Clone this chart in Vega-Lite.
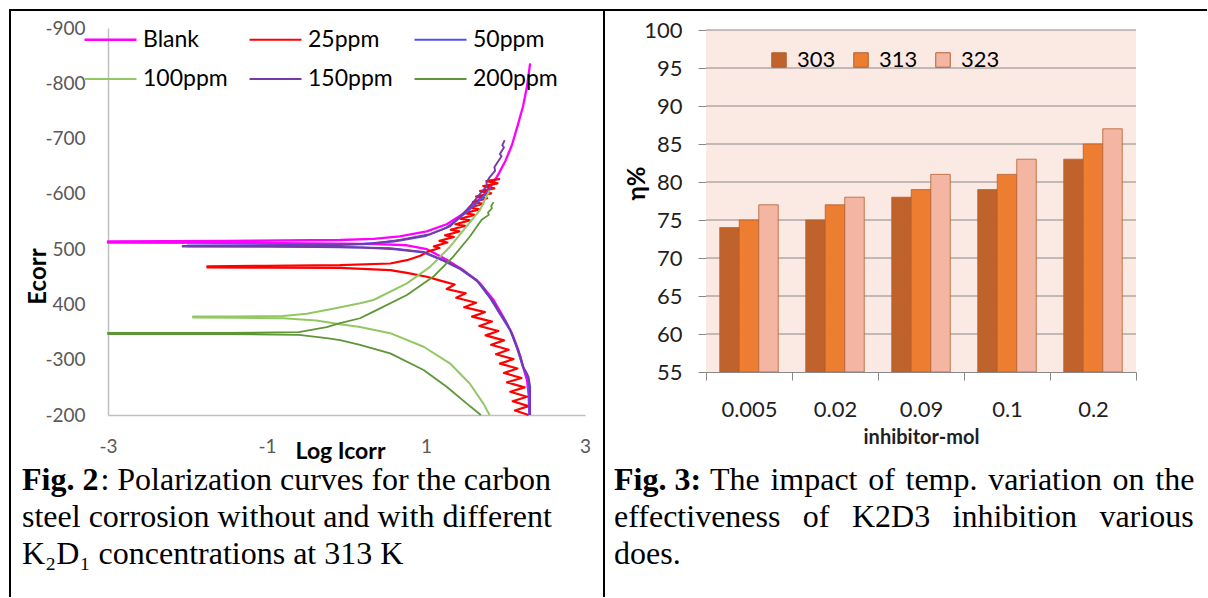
{
  "$schema": "https://vega.github.io/schema/vega-lite/v6.json",
  "background": "white",
  "padding": {"left": 9, "top": 9, "right": 0, "bottom": 0},
  "bounds": "flush",
  "spacing": 0,
  "resolve": {"scale": {"color": "independent", "strokeWidth": "independent"}, "legend": {"color": "independent"}},
  "config": {"font": "Lato", "view": {"stroke": null}},
  "hconcat": [
    {
      "width": 594,
      "height": 587,
      "view": {"stroke": "black", "strokeWidth": 2, "strokeDash": [594, 1181, 587]},
      "title": {
        "text": "Fig. 2",
        "subtitle": ["\u200b\u00a0\u00a0\u00a0\u00a0\u00a0\u00a0\u00a0\u00a0\u00a0\u2009: Polarization curves for the carbon", "steel corrosion without and with different", "K\u2082D\u2081 concentrations at 313 K"],
        "orient": "bottom", "anchor": "start", "frame": "group", "offset": -132, "dx": 12,
        "baseline": "top",
        "font": "Liberation Serif", "fontSize": 32, "fontWeight": "bold", "color": "black",
        "subtitleFont": "Liberation Serif", "subtitleFontSize": 32, "subtitleFontWeight": "normal", "subtitleColor": "black",
        "subtitleLineHeight": 37, "subtitlePadding": -32
      },
      "data": {"values": [
        {"s":"Blank","i":1,"x":2.31,"y":-836},{"s":"Blank","i":2,"x":2.29,"y":-815},{"s":"Blank","i":3,"x":2.27,"y":-794},{"s":"Blank","i":4,"x":2.22,"y":-758},{"s":"Blank","i":5,"x":2.15,"y":-722},{"s":"Blank","i":6,"x":2.08,"y":-688},{"s":"Blank","i":7,"x":2.0,"y":-660},{"s":"Blank","i":8,"x":1.92,"y":-638},{"s":"Blank","i":9,"x":1.84,"y":-618},{"s":"Blank","i":10,"x":1.74,"y":-600},{"s":"Blank","i":11,"x":1.64,"y":-586},{"s":"Blank","i":12,"x":1.47,"y":-564},{"s":"Blank","i":13,"x":1.26,"y":-545},{"s":"Blank","i":14,"x":1.01,"y":-532},{"s":"Blank","i":15,"x":0.67,"y":-523},{"s":"Blank","i":16,"x":0.34,"y":-518.5},{"s":"Blank","i":17,"x":-0.08,"y":-516.5},{"s":"Blank","i":18,"x":-1.5,"y":-515},{"s":"Blank","i":19,"x":-3,"y":-514},{"s":"Blank","i":20,"x":-3,"y":-512},{"s":"Blank","i":21,"x":-1.5,"y":-511.5},{"s":"Blank","i":22,"x":-0.08,"y":-510},{"s":"Blank","i":23,"x":0.4,"y":-509},{"s":"Blank","i":24,"x":0.76,"y":-507},{"s":"Blank","i":25,"x":1.01,"y":-500},{"s":"Blank","i":26,"x":1.26,"y":-481},{"s":"Blank","i":27,"x":1.47,"y":-462},{"s":"Blank","i":28,"x":1.68,"y":-438},{"s":"Blank","i":29,"x":1.85,"y":-408},{"s":"Blank","i":30,"x":1.97,"y":-378},{"s":"Blank","i":31,"x":2.08,"y":-348},{"s":"Blank","i":32,"x":2.16,"y":-318},{"s":"Blank","i":33,"x":2.22,"y":-288},{"s":"Blank","i":34,"x":2.27,"y":-263},{"s":"Blank","i":35,"x":2.29,"y":-239},{"s":"Blank","i":36,"x":2.3,"y":-200},
        {"s":"25ppm","i":1,"x":1.93,"y":-627},{"s":"25ppm","i":2,"x":1.76,"y":-623},{"s":"25ppm","i":3,"x":1.9,"y":-619},{"s":"25ppm","i":4,"x":1.72,"y":-614},{"s":"25ppm","i":5,"x":1.86,"y":-610},{"s":"25ppm","i":6,"x":1.68,"y":-605},{"s":"25ppm","i":7,"x":1.82,"y":-601},{"s":"25ppm","i":8,"x":1.63,"y":-595},{"s":"25ppm","i":9,"x":1.77,"y":-592},{"s":"25ppm","i":10,"x":1.59,"y":-585},{"s":"25ppm","i":11,"x":1.72,"y":-582},{"s":"25ppm","i":12,"x":1.54,"y":-575},{"s":"25ppm","i":13,"x":1.67,"y":-572},{"s":"25ppm","i":14,"x":1.49,"y":-565},{"s":"25ppm","i":15,"x":1.61,"y":-562},{"s":"25ppm","i":16,"x":1.43,"y":-555},{"s":"25ppm","i":17,"x":1.55,"y":-552},{"s":"25ppm","i":18,"x":1.37,"y":-545},{"s":"25ppm","i":19,"x":1.49,"y":-542},{"s":"25ppm","i":20,"x":1.31,"y":-535},{"s":"25ppm","i":21,"x":1.42,"y":-532},{"s":"25ppm","i":22,"x":1.24,"y":-525},{"s":"25ppm","i":23,"x":1.35,"y":-522},{"s":"25ppm","i":24,"x":1.17,"y":-515},{"s":"25ppm","i":25,"x":1.27,"y":-512},{"s":"25ppm","i":26,"x":1.1,"y":-505},{"s":"25ppm","i":27,"x":1.17,"y":-502},{"s":"25ppm","i":28,"x":1.03,"y":-496},{"s":"25ppm","i":29,"x":0.93,"y":-488},{"s":"25ppm","i":30,"x":0.76,"y":-480},{"s":"25ppm","i":31,"x":0.55,"y":-474},{"s":"25ppm","i":32,"x":-0.08,"y":-471},{"s":"25ppm","i":33,"x":-1.0,"y":-470},{"s":"25ppm","i":34,"x":-1.75,"y":-469},{"s":"25ppm","i":35,"x":-1.75,"y":-467},{"s":"25ppm","i":36,"x":-1.0,"y":-466.5},{"s":"25ppm","i":37,"x":-0.08,"y":-466},{"s":"25ppm","i":38,"x":0.55,"y":-462},{"s":"25ppm","i":39,"x":0.76,"y":-457},{"s":"25ppm","i":40,"x":1.01,"y":-450},{"s":"25ppm","i":41,"x":1.18,"y":-443},{"s":"25ppm","i":42,"x":1.36,"y":-436},{"s":"25ppm","i":43,"x":1.26,"y":-428},{"s":"25ppm","i":44,"x":1.5,"y":-420},{"s":"25ppm","i":45,"x":1.38,"y":-412},{"s":"25ppm","i":46,"x":1.63,"y":-403},{"s":"25ppm","i":47,"x":1.48,"y":-395},{"s":"25ppm","i":48,"x":1.74,"y":-386},{"s":"25ppm","i":49,"x":1.58,"y":-378},{"s":"25ppm","i":50,"x":1.83,"y":-369},{"s":"25ppm","i":51,"x":1.67,"y":-361},{"s":"25ppm","i":52,"x":1.91,"y":-352},{"s":"25ppm","i":53,"x":1.75,"y":-344},{"s":"25ppm","i":54,"x":1.98,"y":-335},{"s":"25ppm","i":55,"x":1.82,"y":-327},{"s":"25ppm","i":56,"x":2.04,"y":-318},{"s":"25ppm","i":57,"x":1.88,"y":-310},{"s":"25ppm","i":58,"x":2.1,"y":-301},{"s":"25ppm","i":59,"x":1.93,"y":-293},{"s":"25ppm","i":60,"x":2.15,"y":-284},{"s":"25ppm","i":61,"x":1.98,"y":-276},{"s":"25ppm","i":62,"x":2.2,"y":-267},{"s":"25ppm","i":63,"x":2.02,"y":-259},{"s":"25ppm","i":64,"x":2.24,"y":-250},{"s":"25ppm","i":65,"x":2.06,"y":-242},{"s":"25ppm","i":66,"x":2.27,"y":-233},{"s":"25ppm","i":67,"x":2.09,"y":-225},{"s":"25ppm","i":68,"x":2.29,"y":-216},{"s":"25ppm","i":69,"x":2.12,"y":-208},{"s":"25ppm","i":70,"x":2.29,"y":-200},
        {"s":"50ppm","i":1,"x":1.82,"y":-612},{"s":"50ppm","i":2,"x":1.7,"y":-592},{"s":"50ppm","i":3,"x":1.55,"y":-572},{"s":"50ppm","i":4,"x":1.4,"y":-554},{"s":"50ppm","i":5,"x":1.25,"y":-538},{"s":"50ppm","i":6,"x":1.0,"y":-524},{"s":"50ppm","i":7,"x":0.6,"y":-514},{"s":"50ppm","i":8,"x":0.2,"y":-509},{"s":"50ppm","i":9,"x":-1.0,"y":-507},{"s":"50ppm","i":10,"x":-2.0,"y":-506.5},{"s":"50ppm","i":11,"x":-2.0,"y":-505.5},{"s":"50ppm","i":12,"x":-1.0,"y":-505},{"s":"50ppm","i":13,"x":0.2,"y":-503},{"s":"50ppm","i":14,"x":0.6,"y":-500},{"s":"50ppm","i":15,"x":0.97,"y":-494},{"s":"50ppm","i":16,"x":1.22,"y":-479},{"s":"50ppm","i":17,"x":1.43,"y":-464},{"s":"50ppm","i":18,"x":1.64,"y":-443},{"s":"50ppm","i":19,"x":1.8,"y":-413},{"s":"50ppm","i":20,"x":1.93,"y":-383},{"s":"50ppm","i":21,"x":2.06,"y":-353},{"s":"50ppm","i":22,"x":2.14,"y":-323},{"s":"50ppm","i":23,"x":2.22,"y":-287},{"s":"50ppm","i":24,"x":2.28,"y":-268},{"s":"50ppm","i":25,"x":2.3,"y":-250},{"s":"50ppm","i":26,"x":2.3,"y":-200},
        {"s":"100ppm","i":1,"x":1.8,"y":-606},{"s":"100ppm","i":2,"x":1.76,"y":-595},{"s":"100ppm","i":3,"x":1.68,"y":-571},{"s":"100ppm","i":4,"x":1.51,"y":-541},{"s":"100ppm","i":5,"x":1.3,"y":-504},{"s":"100ppm","i":6,"x":1.05,"y":-468},{"s":"100ppm","i":7,"x":0.76,"y":-438},{"s":"100ppm","i":8,"x":0.34,"y":-408},{"s":"100ppm","i":9,"x":0.17,"y":-402},{"s":"100ppm","i":10,"x":-0.17,"y":-392},{"s":"100ppm","i":11,"x":-0.5,"y":-383},{"s":"100ppm","i":12,"x":-0.8,"y":-379},{"s":"100ppm","i":13,"x":-1.4,"y":-378},{"s":"100ppm","i":14,"x":-1.93,"y":-378},{"s":"100ppm","i":15,"x":-1.93,"y":-376.5},{"s":"100ppm","i":16,"x":-1.4,"y":-376},{"s":"100ppm","i":17,"x":-0.8,"y":-375},{"s":"100ppm","i":18,"x":-0.38,"y":-371},{"s":"100ppm","i":19,"x":-0.08,"y":-364},{"s":"100ppm","i":20,"x":0.17,"y":-359},{"s":"100ppm","i":21,"x":0.55,"y":-348},{"s":"100ppm","i":22,"x":0.97,"y":-323.5},{"s":"100ppm","i":23,"x":1.3,"y":-293.5},{"s":"100ppm","i":24,"x":1.55,"y":-257},{"s":"100ppm","i":25,"x":1.72,"y":-221},{"s":"100ppm","i":26,"x":1.8,"y":-200},
        {"s":"150ppm","i":1,"x":1.99,"y":-697},{"s":"150ppm","i":2,"x":1.96,"y":-688},{"s":"150ppm","i":3,"x":1.98,"y":-684},{"s":"150ppm","i":4,"x":1.93,"y":-672},{"s":"150ppm","i":5,"x":1.95,"y":-668},{"s":"150ppm","i":6,"x":1.89,"y":-655},{"s":"150ppm","i":7,"x":1.86,"y":-648},{"s":"150ppm","i":8,"x":1.87,"y":-642},{"s":"150ppm","i":9,"x":1.8,"y":-630},{"s":"150ppm","i":10,"x":1.76,"y":-620},{"s":"150ppm","i":11,"x":1.77,"y":-615},{"s":"150ppm","i":12,"x":1.68,"y":-600},{"s":"150ppm","i":13,"x":1.55,"y":-577},{"s":"150ppm","i":14,"x":1.43,"y":-559},{"s":"150ppm","i":15,"x":1.3,"y":-541},{"s":"150ppm","i":16,"x":1.05,"y":-527},{"s":"150ppm","i":17,"x":0.67,"y":-516.5},{"s":"150ppm","i":18,"x":0.34,"y":-510.5},{"s":"150ppm","i":19,"x":-0.08,"y":-507.5},{"s":"150ppm","i":20,"x":-1.0,"y":-506.5},{"s":"150ppm","i":21,"x":-2.06,"y":-506},{"s":"150ppm","i":22,"x":-2.06,"y":-504.5},{"s":"150ppm","i":23,"x":-1.0,"y":-504.5},{"s":"150ppm","i":24,"x":-0.08,"y":-504},{"s":"150ppm","i":25,"x":0.55,"y":-501.5},{"s":"150ppm","i":26,"x":0.97,"y":-495},{"s":"150ppm","i":27,"x":1.22,"y":-480},{"s":"150ppm","i":28,"x":1.43,"y":-465},{"s":"150ppm","i":29,"x":1.64,"y":-444},{"s":"150ppm","i":30,"x":1.72,"y":-430},{"s":"150ppm","i":31,"x":1.8,"y":-414},{"s":"150ppm","i":32,"x":1.87,"y":-400},{"s":"150ppm","i":33,"x":1.93,"y":-384},{"s":"150ppm","i":34,"x":2.0,"y":-370},{"s":"150ppm","i":35,"x":2.06,"y":-354},{"s":"150ppm","i":36,"x":2.1,"y":-340},{"s":"150ppm","i":37,"x":2.14,"y":-324},{"s":"150ppm","i":38,"x":2.19,"y":-305},{"s":"150ppm","i":39,"x":2.22,"y":-288},{"s":"150ppm","i":40,"x":2.27,"y":-275},{"s":"150ppm","i":41,"x":2.29,"y":-269},{"s":"150ppm","i":42,"x":2.31,"y":-251},{"s":"150ppm","i":43,"x":2.31,"y":-200},
        {"s":"200ppm","i":1,"x":1.85,"y":-585},{"s":"200ppm","i":2,"x":1.82,"y":-578},{"s":"200ppm","i":3,"x":1.83,"y":-574},{"s":"200ppm","i":4,"x":1.78,"y":-566},{"s":"200ppm","i":5,"x":1.79,"y":-562},{"s":"200ppm","i":6,"x":1.7,"y":-553},{"s":"200ppm","i":7,"x":1.55,"y":-522.5},{"s":"200ppm","i":8,"x":1.34,"y":-486},{"s":"200ppm","i":9,"x":1.09,"y":-450},{"s":"200ppm","i":10,"x":0.76,"y":-417},{"s":"200ppm","i":11,"x":0.34,"y":-387},{"s":"200ppm","i":12,"x":0.17,"y":-375},{"s":"200ppm","i":13,"x":-0.08,"y":-366},{"s":"200ppm","i":14,"x":-0.25,"y":-359},{"s":"200ppm","i":15,"x":-0.6,"y":-350},{"s":"200ppm","i":16,"x":-1.5,"y":-348.5},{"s":"200ppm","i":17,"x":-3,"y":-348.5},{"s":"200ppm","i":18,"x":-3,"y":-346.5},{"s":"200ppm","i":19,"x":-1.5,"y":-346.5},{"s":"200ppm","i":20,"x":-0.6,"y":-345},{"s":"200ppm","i":21,"x":-0.25,"y":-339},{"s":"200ppm","i":22,"x":-0.08,"y":-335.5},{"s":"200ppm","i":23,"x":0.17,"y":-327},{"s":"200ppm","i":24,"x":0.55,"y":-311.5},{"s":"200ppm","i":25,"x":0.97,"y":-281.5},{"s":"200ppm","i":26,"x":1.26,"y":-251},{"s":"200ppm","i":27,"x":1.51,"y":-221},{"s":"200ppm","i":28,"x":1.69,"y":-200}
      ]},
      "mark": {"type": "line", "strokeJoin": "round"},
      "encoding": {
        "x": {"field": "x", "type": "quantitative",
          "scale": {"domain": [-3, 3], "range": [98, 575], "nice": false, "zero": false},
          "axis": {"orient": "bottom", "offset": -182, "values": [-3, -1, 1, 3], "labelExpr": "'' + datum.value",
            "ticks": false, "tickSize": 0, "grid": false, "domainColor": "#BFBFBF", "domainWidth": 1.5,
            "labelFont": "Lato", "labelFontSize": 19, "labelColor": "#595959", "labelPadding": 22, "labelFlush": false, "labelOverlap": false,
            "title": "Log Icorr", "titleFont": "Lato", "titleFontSize": 23, "titleFontWeight": "bold", "titleColor": "black",
            "titleX": 330, "titleY": 36, "titleBaseline": "middle", "titleAlign": "center"}},
        "y": {"field": "y", "type": "quantitative",
          "scale": {"domain": [-900, -200], "range": [18, 405], "nice": false, "zero": false},
          "axis": {"orient": "left", "offset": -98, "values": [-900, -800, -700, -600, -500, -400, -300, -200],
            "labelExpr": "(datum.value == -500 || datum.value == -400) ? '' + (-datum.value) : '' + datum.value",
            "ticks": false, "tickSize": 0, "grid": false, "domainColor": "#BFBFBF", "domainWidth": 1.5,
            "labelFont": "Lato", "labelFontSize": 19, "labelColor": "#595959", "labelPadding": 23, "labelFlush": false, "labelOverlap": false,
            "title": "Ecorr", "titleFont": "Lato", "titleFontSize": 24, "titleFontWeight": "bold", "titleColor": "black",
            "titleX": -70, "titleY": 266, "titleAngle": 270, "titleBaseline": "middle", "titleAlign": "center"}},
        "color": {"field": "s", "type": "nominal",
          "scale": {"domain": ["Blank", "25ppm", "50ppm", "100ppm", "150ppm", "200ppm"],
                    "range": ["#FF00FF", "#FF0000", "#5050F0", "#92C864", "#7639A6", "#5D9638"]},
          "legend": {"orient": "none", "legendX": 73, "legendY": 2, "columns": 3, "direction": "horizontal", "title": null,
            "symbolType": "stroke", "symbolSize": 2704, "symbolStrokeWidth": 2.5,
            "labelFont": "Lato", "labelFontSize": 23, "labelColor": "black", "labelOffset": 5, "labelLimit": 0,
            "columnPadding": 17, "rowPadding": -15}},
        "strokeWidth": {"field": "s", "type": "ordinal",
          "scale": {"domain": ["Blank", "25ppm", "50ppm", "100ppm", "150ppm", "200ppm"], "range": [2.3, 1.8, 2.2, 2.3, 2.5, 3.6]},
          "legend": null},
        "order": {"field": "i", "type": "quantitative"}
      }
    },
    {
      "width": 603,
      "height": 587,
      "view": {"stroke": "black", "strokeWidth": 2, "strokeDash": [603, 1190, 587]},
      "title": {
        "text": "Fig. 3:",
        "subtitle": ["\u200b\u00a0\u00a0\u00a0\u00a0\u00a0\u00a0\u00a0\u00a0\u00a0\u00a0\u00a0\u00a0The\u00a0\u200aimpact\u00a0\u200aof\u00a0\u200atemp.\u00a0\u200avariation\u00a0\u200aon\u00a0\u200athe", "effectiveness\u00a0\u00a0\u2009of\u00a0\u00a0\u2009K2D3\u00a0\u00a0\u2009inhibition\u00a0\u00a0\u2009various", "does."],
        "orient": "bottom", "anchor": "start", "frame": "group", "offset": -132, "dx": 10,
        "baseline": "top",
        "font": "Liberation Serif", "fontSize": 32, "fontWeight": "bold", "color": "black",
        "subtitleFont": "Liberation Serif", "subtitleFontSize": 32, "subtitleFontWeight": "normal", "subtitleColor": "black",
        "subtitleLineHeight": 37, "subtitlePadding": -32
      },
      "layer": [
        {
          "data": {"values": [{}]},
          "mark": {"type": "rect", "color": "#FBE9E4"},
          "encoding": {
            "x": {"datum": "0.005", "type": "nominal", "bandPosition": 0,
              "scale": {"domain": ["0.005", "0.02", "0.09", "0.1", "0.2"], "range": [102, 532], "paddingInner": 0, "paddingOuter": 0},
              "axis": {"orient": "bottom", "offset": -225, "tickBand": "extent", "ticks": true, "tickSize": 8, "tickColor": "#888888",
                "domainColor": "#888888", "grid": false, "labelAngle": 0,
                "labelFont": "Lato", "labelFontSize": 22, "labelColor": "#1F1F1F", "labelPadding": 19,
                "title": "inhibitor-mol", "titleFont": "Lato", "titleFontSize": 20, "titleFontWeight": "bold", "titleColor": "#1F1F1F",
                "titleX": 317, "titleY": 65, "titleBaseline": "middle", "titleAlign": "center"}},
            "x2": {"datum": "0.2", "bandPosition": 1},
            "y": {"datum": 55, "type": "quantitative",
              "scale": {"domain": [55, 100], "range": [362, 20], "nice": false, "zero": false},
              "axis": {"orient": "left", "offset": -102, "values": [55, 60, 65, 70, 75, 80, 85, 90, 95, 100], "grid": false,
                "ticks": true, "tickSize": 8, "tickColor": "#888888", "domainColor": "#888888",
                "labelFont": "Lato", "labelFontSize": 22, "labelColor": "#1F1F1F", "labelPadding": 16,
                "title": "η%", "titleFont": "Lato", "titleFontSize": 24, "titleFontWeight": "bold", "titleColor": "black",
                "titleX": -69, "titleY": 173, "titleAngle": 270, "titleBaseline": "middle", "titleAlign": "center"}},
            "y2": {"datum": 100}
          }
        },
        {
          "data": {"values": [{"g": 60}, {"g": 65}, {"g": 70}, {"g": 75}, {"g": 80}, {"g": 85}, {"g": 90}, {"g": 95}, {"g": 100}]},
          "mark": {"type": "rule", "color": "#888888", "strokeWidth": 1},
          "encoding": {
            "x": {"datum": "0.005", "type": "nominal", "bandPosition": 0},
            "x2": {"datum": "0.2", "bandPosition": 1},
            "y": {"field": "g", "type": "quantitative", "title": "η%"}
          }
        },
        {
          "data": {"values": [
            {"conc": "0.005", "temp": "303", "v": 74}, {"conc": "0.005", "temp": "313", "v": 75}, {"conc": "0.005", "temp": "323", "v": 77},
            {"conc": "0.02", "temp": "303", "v": 75}, {"conc": "0.02", "temp": "313", "v": 77}, {"conc": "0.02", "temp": "323", "v": 78},
            {"conc": "0.09", "temp": "303", "v": 78}, {"conc": "0.09", "temp": "313", "v": 79}, {"conc": "0.09", "temp": "323", "v": 81},
            {"conc": "0.1", "temp": "303", "v": 79}, {"conc": "0.1", "temp": "313", "v": 81}, {"conc": "0.1", "temp": "323", "v": 83},
            {"conc": "0.2", "temp": "303", "v": 83}, {"conc": "0.2", "temp": "313", "v": 85}, {"conc": "0.2", "temp": "323", "v": 87}
          ]},
          "mark": {"type": "bar", "stroke": "#B4602E", "strokeWidth": 1, "strokeOpacity": 0.8},
          "encoding": {
            "x": {"field": "conc", "type": "nominal", "sort": null, "title": "inhibitor-mol"},
            "xOffset": {"field": "temp", "type": "nominal", "scale": {"domain": ["303", "313", "323"], "paddingInner": 0, "paddingOuter": 0.705}},
            "y": {"field": "v", "type": "quantitative", "title": "η%"},
            "y2": {"datum": 55},
            "color": {"field": "temp", "type": "nominal",
              "scale": {"domain": ["303", "313", "323"], "range": ["#C0622B", "#ED7D31", "#F4B6A2"]},
              "legend": {"orient": "none", "legendX": 164, "legendY": 39, "direction": "horizontal", "title": null,
                "symbolType": "square", "symbolSize": 210, "symbolStrokeWidth": 1,
                "labelFont": "Lato", "labelFontSize": 22, "labelColor": "black", "labelOffset": 7, "columnPadding": 14}}
          }
        }
      ]
    }
  ]
}
